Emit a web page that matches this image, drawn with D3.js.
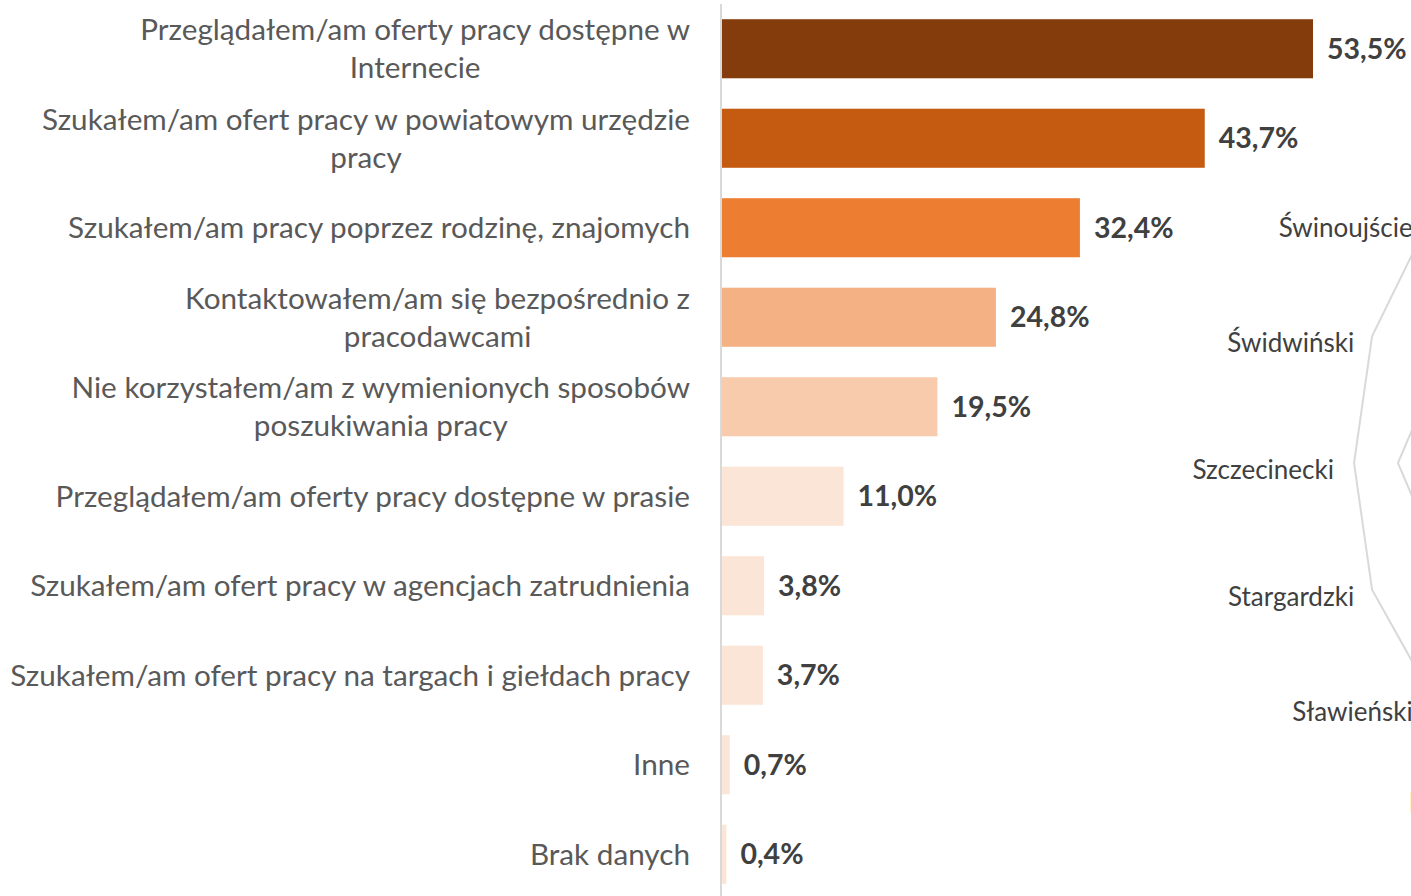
<!DOCTYPE html>
<html>
<head>
<meta charset="utf-8">
<script src="https://cdn.jsdelivr.net/npm/d3@7"></script>
<style>
    body { margin: 0; background: #ffffff; overflow: hidden; }
    svg { display: block; }
</style>
</head>
<body>
<div id="chart"></div>
<script>
// bar chart data
const categories = [
    ["Przeglądałem/am oferty pracy dostępne w", "Internecie"],
    ["Szukałem/am ofert pracy w powiatowym urzędzie", "pracy"],
    ["Szukałem/am pracy poprzez rodzinę, znajomych"],
    ["Kontaktowałem/am się bezpośrednio z", "pracodawcami"],
    ["Nie korzystałem/am z wymienionych sposobów", "poszukiwania pracy"],
    ["Przeglądałem/am oferty pracy dostępne w prasie"],
    ["Szukałem/am ofert pracy w agencjach zatrudnienia"],
    ["Szukałem/am ofert pracy na targach i giełdach pracy"],
    ["Inne"],
    ["Brak danych"]
];
const values = [53.5, 43.7, 32.4, 24.8, 19.5, 11.0, 3.8, 3.7, 0.7, 0.4];
const barColors = ["#843C0C", "#C55A11", "#ED7D31", "#F4B183", "#F8CBAD",
                   "#FBE5D6", "#FBE5D6", "#FBE5D6", "#FBE5D6", "#FBE5D6"];

// radar chart behind it (only the left edge is visible)
const radarAxes = ["Białogardzki", "Choszczeński", "Drawski", "Goleniowski", "Gryficki",
    "Gryfiński", "Kamieński", "Kołobrzeski", "Koszalin", "Koszaliński", "Łobeski",
    "Myśliborski", "Policki", "Pyrzycki", "Sławieński", "Stargardzki", "Szczecinecki",
    "Świdwiński", "Świnoujście", "Wałecki"];
const radarOuter = [99, 100, 99, 100, 99, 100, 99, 100, 99, 100, 99, 100, 99, 99,
                    98.8, 100, 99.5, 100, 100.5, 99];
const radarInner = [80, 82, 81, 80, 82, 81, 80, 82, 81, 80, 82, 81, 80, 81,
                    80, 82, 88.8, 82, 80, 80];

const W = 1411, H = 896;
const font = "Lato, 'Open Sans', sans-serif";

var svg = d3.select("#chart").append("svg").attr("width", W).attr("height", H);

drawRadar();
drawBars();

function drawRadar() {
    const cx = 1762, cy = 463;
    const step = 2 * Math.PI / radarAxes.length;
    // rotate so that "Szczecinecki" points to the left (270deg clockwise from top)
    const rot = 1.5 * Math.PI - radarAxes.indexOf("Szczecinecki") * step;
    const r = d3.scaleLinear().domain([0, 100]).range([0, 410]);
    const angle = i => i * step + rot;

    var g = svg.append("g").attr("transform", "translate(" + cx + "," + cy + ")");

    var line = d3.lineRadial()
        .angle((d, i) => angle(i))
        .radius(d => r(d))
        .curve(d3.curveLinearClosed);

    for (let series of [radarOuter, radarInner]) {
        g.append("path")
            .attr("d", line(series))
            .attr("fill", "none")
            .attr("stroke", "#D9D9D9")
            .attr("stroke-width", 2);
    }

    radarAxes.forEach((name, i) => {
        let a = angle(i);
        let lx = Math.sin(a) * r(100.5);
        let ly = -Math.cos(a) * r(100.5);
        g.append("text")
            .attr("x", lx < 0 ? lx - 16 : lx + 16)
            .attr("y", ly + 7)
            .attr("dy", "0.35em")
            .attr("text-anchor", lx < -20 ? "end" : (lx > 20 ? "start" : "middle"))
            .attr("fill", "#404040")
            .style("font-family", font)
            .style("font-size", "26px")
            .text(name);
    });
}

function drawBars() {
    const x0 = 722;
    var x = d3.scaleLinear().domain([0, 53.5]).range([x0, 1313]);
    var y = d3.scaleBand().domain(d3.range(values.length))
        .range([4, 4 + 89.5 * values.length]).paddingInner(0.34).paddingOuter(0.17);

    var bars = svg.append("g");
    bars.selectAll("rect").data(values).join("rect")
        .attr("x", x0)
        .attr("y", (d, i) => y(i))
        .attr("width", d => x(d) - x0)
        .attr("height", y.bandwidth())
        .attr("fill", (d, i) => barColors[i]);

    bars.selectAll("text.val").data(values).join("text")
        .attr("class", "val")
        .attr("x", d => x(d) + 14)
        .attr("y", (d, i) => y(i) + y.bandwidth() / 2)
        .attr("dy", "0.35em")
        .attr("fill", "#404040")
        .style("font-family", font)
        .style("font-weight", "bold")
        .style("font-size", "28.5px")
        .text(d => d3.format(".1f")(d).replace(".", ",") + "%");

    // vertical axis line
    svg.append("line")
        .attr("x1", 721).attr("x2", 721)
        .attr("y1", 4).attr("y2", H)
        .attr("stroke", "#D9D9D9")
        .attr("stroke-width", 2);

    // category labels, wrapped lines centred on each other, block right aligned
    const right = 690, lineH = 38;
    categories.forEach((lines, i) => {
        let cy = y(i) + y.bandwidth() / 2;
        let t = svg.append("text")
            .attr("fill", "#595959")
            .style("font-family", font)
            .style("font-size", "29.7px");
        let spans = lines.map((s, k) => t.append("tspan")
            .attr("y", cy + (k - (lines.length - 1) / 2) * lineH)
            .attr("dy", "0.35em")
            .text(s));
        let maxW = d3.max(spans, s => s.node().getComputedTextLength());
        spans.forEach(s => s.attr("x", right - maxW / 2).attr("text-anchor", "middle"));
    });
}
</script>
</body>
</html>
